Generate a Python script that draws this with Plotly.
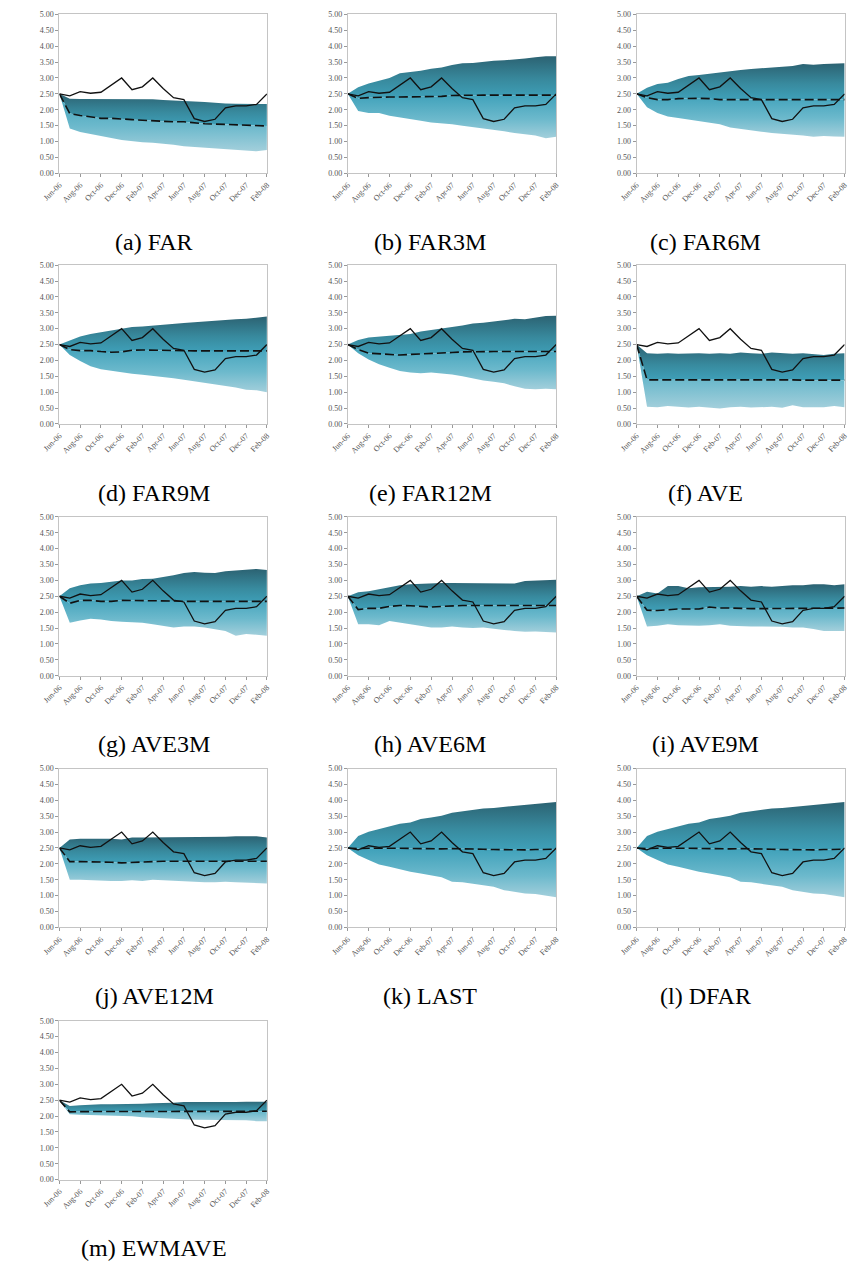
import plotly.graph_objects as go

# Monthly observation dates, Jun-06 .. Feb-08
months = ["Jun-06", "Jul-06", "Aug-06", "Sep-06", "Oct-06", "Nov-06", "Dec-06",
          "Jan-07", "Feb-07", "Mar-07", "Apr-07", "May-07", "Jun-07", "Jul-07",
          "Aug-07", "Sep-07", "Oct-07", "Nov-07", "Dec-07", "Jan-08", "Feb-08"]
tick_labels = months[::2]

# Realised series (solid line)
actual = [2.50, 2.44, 2.57, 2.52, 2.55, 2.78, 3.00, 2.63, 2.72, 3.00, 2.67,
          2.38, 2.32, 1.72, 1.63, 1.70, 2.06, 2.12, 2.12, 2.17, 2.50]

# Fan bounds and central forecast for each method
far_up = [2.50, 2.35, 2.34, 2.34, 2.33, 2.33, 2.33, 2.33, 2.32, 2.33, 2.31,
          2.30, 2.29, 2.26, 2.24, 2.21, 2.20, 2.19, 2.18, 2.18, 2.18]
far_lo = [2.50, 1.41, 1.30, 1.23, 1.17, 1.11, 1.05, 1.01, 0.98, 0.96, 0.94,
          0.90, 0.85, 0.83, 0.80, 0.77, 0.76, 0.75, 0.72, 0.69, 0.73]
far_md = [2.50, 1.88, 1.82, 1.77, 1.73, 1.73, 1.70, 1.69, 1.67, 1.65, 1.65,
          1.62, 1.62, 1.58, 1.56, 1.55, 1.54, 1.52, 1.50, 1.50, 1.49]

far3m_up = [2.50, 2.71, 2.83, 2.92, 3.00, 3.15, 3.18, 3.23, 3.29, 3.33, 3.41,
            3.46, 3.47, 3.51, 3.54, 3.56, 3.58, 3.61, 3.65, 3.68, 3.68]
far3m_lo = [2.50, 1.96, 1.90, 1.90, 1.81, 1.75, 1.70, 1.65, 1.60, 1.58, 1.54,
            1.50, 1.46, 1.42, 1.38, 1.32, 1.27, 1.23, 1.19, 1.10, 1.15]
far3m_md = [2.50, 2.36, 2.38, 2.40, 2.40, 2.40, 2.40, 2.40, 2.40, 2.42, 2.45,
            2.46, 2.46, 2.46, 2.46, 2.46, 2.46, 2.46, 2.46, 2.46, 2.46]

far6m_up = [2.50, 2.69, 2.81, 2.85, 2.97, 3.06, 3.09, 3.13, 3.18, 3.23, 3.25,
            3.28, 3.31, 3.34, 3.35, 3.38, 3.44, 3.42, 3.44, 3.46, 3.46]
far6m_lo = [2.50, 2.08, 1.90, 1.79, 1.74, 1.69, 1.65, 1.60, 1.54, 1.44, 1.39,
            1.35, 1.31, 1.27, 1.25, 1.23, 1.19, 1.15, 1.17, 1.16, 1.15]
far6m_md = [2.50, 2.38, 2.32, 2.32, 2.35, 2.36, 2.36, 2.35, 2.32, 2.32, 2.32,
            2.32, 2.32, 2.32, 2.32, 2.32, 2.32, 2.32, 2.32, 2.32, 2.32]

far9m_up = [2.50, 2.62, 2.75, 2.83, 2.88, 2.93, 3.00, 3.05, 3.07, 3.10, 3.14,
            3.16, 3.18, 3.20, 3.23, 3.26, 3.28, 3.30, 3.31, 3.34, 3.38]
far9m_lo = [2.50, 2.17, 1.98, 1.82, 1.72, 1.67, 1.62, 1.58, 1.55, 1.52, 1.48,
            1.44, 1.39, 1.34, 1.31, 1.26, 1.21, 1.15, 1.08, 1.06, 1.00]
far9m_md = [2.50, 2.34, 2.31, 2.31, 2.28, 2.26, 2.27, 2.32, 2.33, 2.32, 2.31,
            2.30, 2.30, 2.30, 2.30, 2.30, 2.30, 2.30, 2.30, 2.30, 2.30]

far12m_up = [2.50, 2.64, 2.72, 2.75, 2.77, 2.79, 2.83, 2.91, 2.95, 3.00, 3.05,
             3.10, 3.16, 3.19, 3.23, 3.26, 3.31, 3.30, 3.34, 3.40, 3.41]
far12m_lo = [2.50, 2.23, 2.03, 1.88, 1.77, 1.67, 1.62, 1.60, 1.62, 1.60, 1.56,
             1.50, 1.43, 1.37, 1.33, 1.28, 1.19, 1.11, 1.09, 1.11, 1.09]
far12m_md = [2.50, 2.34, 2.23, 2.21, 2.18, 2.17, 2.19, 2.20, 2.23, 2.23, 2.25,
             2.27, 2.28, 2.28, 2.28, 2.28, 2.28, 2.28, 2.28, 2.28, 2.28]

ave_up = [2.50, 2.23, 2.21, 2.23, 2.21, 2.23, 2.23, 2.21, 2.23, 2.21, 2.25,
          2.23, 2.21, 2.25, 2.23, 2.21, 2.23, 2.19, 2.17, 2.21, 2.23]
ave_lo = [2.50, 0.54, 0.53, 0.57, 0.54, 0.52, 0.54, 0.51, 0.49, 0.53, 0.54,
          0.52, 0.53, 0.54, 0.51, 0.59, 0.53, 0.54, 0.53, 0.57, 0.53]
ave_md = [2.50, 1.39, 1.39, 1.39, 1.41, 1.39, 1.41, 1.39, 1.39, 1.39, 1.39,
          1.41, 1.39, 1.41, 1.41, 1.39, 1.38, 1.38, 1.38, 1.38, 1.38]

ave3m_up = [2.50, 2.75, 2.85, 2.90, 2.92, 2.95, 3.00, 3.00, 3.04, 3.05, 3.10,
            3.16, 3.23, 3.26, 3.24, 3.23, 3.29, 3.31, 3.34, 3.36, 3.33]
ave3m_lo = [2.50, 1.67, 1.74, 1.79, 1.77, 1.72, 1.70, 1.69, 1.67, 1.62, 1.57,
            1.52, 1.55, 1.55, 1.52, 1.47, 1.41, 1.26, 1.31, 1.29, 1.26]
ave3m_md = [2.50, 2.28, 2.37, 2.37, 2.34, 2.34, 2.37, 2.37, 2.36, 2.37, 2.37,
            2.35, 2.34, 2.34, 2.34, 2.34, 2.34, 2.34, 2.34, 2.34, 2.34]

ave6m_up = [2.50, 2.63, 2.66, 2.72, 2.78, 2.85, 2.88, 2.90, 2.90, 2.92, 2.92,
            2.92, 2.92, 2.92, 2.92, 2.92, 2.90, 2.98, 3.00, 3.00, 3.02]
ave6m_lo = [2.50, 1.62, 1.62, 1.59, 1.72, 1.67, 1.62, 1.57, 1.52, 1.52, 1.55,
            1.52, 1.50, 1.52, 1.47, 1.44, 1.41, 1.38, 1.39, 1.38, 1.36]
ave6m_md = [2.50, 2.08, 2.12, 2.12, 2.18, 2.21, 2.20, 2.18, 2.16, 2.18, 2.20,
            2.21, 2.21, 2.21, 2.21, 2.21, 2.21, 2.21, 2.21, 2.21, 2.21]

ave9m_up = [2.50, 2.64, 2.59, 2.82, 2.82, 2.75, 2.78, 2.78, 2.80, 2.80, 2.82,
            2.80, 2.82, 2.80, 2.82, 2.85, 2.85, 2.88, 2.88, 2.85, 2.88]
ave9m_lo = [2.50, 1.55, 1.57, 1.62, 1.59, 1.57, 1.57, 1.59, 1.62, 1.57, 1.55,
            1.55, 1.55, 1.55, 1.54, 1.52, 1.52, 1.47, 1.41, 1.41, 1.41]
ave9m_md = [2.50, 2.06, 2.05, 2.08, 2.10, 2.10, 2.10, 2.16, 2.13, 2.13, 2.11,
            2.11, 2.11, 2.11, 2.13, 2.13, 2.13, 2.13, 2.13, 2.13, 2.13]

ave12m_up = [2.50, 2.77, 2.79, 2.79, 2.80, 2.79, 2.77, 2.83, 2.83, 2.83, 2.83,
             2.85, 2.83, 2.83, 2.85, 2.83, 2.85, 2.87, 2.88, 2.87, 2.83]
ave12m_lo = [2.50, 1.50, 1.50, 1.48, 1.46, 1.46, 1.46, 1.48, 1.46, 1.50, 1.48,
             1.46, 1.46, 1.44, 1.42, 1.42, 1.44, 1.42, 1.40, 1.40, 1.38]
ave12m_md = [2.50, 2.07, 2.07, 2.07, 2.06, 2.05, 2.03, 2.05, 2.07, 2.07, 2.08,
             2.08, 2.08, 2.08, 2.08, 2.06, 2.08, 2.08, 2.08, 2.08, 2.08]

last_up = [2.50, 2.88, 3.01, 3.10, 3.18, 3.26, 3.30, 3.41, 3.46, 3.51, 3.61,
           3.66, 3.71, 3.74, 3.76, 3.79, 3.83, 3.87, 3.88, 3.93, 3.95]
last_lo = [2.50, 2.27, 2.12, 1.98, 1.91, 1.83, 1.75, 1.70, 1.65, 1.58, 1.44,
           1.42, 1.37, 1.33, 1.28, 1.17, 1.12, 1.07, 1.05, 1.00, 0.95]
last_md = [2.50, 2.48, 2.49, 2.50, 2.49, 2.49, 2.48, 2.48, 2.48, 2.47, 2.48,
           2.48, 2.47, 2.46, 2.45, 2.44, 2.44, 2.44, 2.45, 2.46, 2.46]

dfar_up = [2.50, 2.88, 3.01, 3.10, 3.18, 3.26, 3.30, 3.41, 3.46, 3.51, 3.61,
           3.66, 3.71, 3.74, 3.76, 3.79, 3.83, 3.87, 3.88, 3.93, 3.95]
dfar_lo = [2.50, 2.27, 2.12, 1.98, 1.91, 1.83, 1.75, 1.70, 1.65, 1.58, 1.44,
           1.42, 1.37, 1.33, 1.28, 1.17, 1.12, 1.07, 1.05, 1.00, 0.95]
dfar_md = [2.50, 2.48, 2.49, 2.50, 2.49, 2.49, 2.48, 2.48, 2.48, 2.47, 2.48,
           2.48, 2.47, 2.46, 2.45, 2.44, 2.44, 2.44, 2.45, 2.46, 2.46]

ewmave_up = [2.50, 2.32, 2.34, 2.36, 2.37, 2.37, 2.37, 2.38, 2.39, 2.40, 2.40,
             2.42, 2.44, 2.44, 2.42, 2.42, 2.44, 2.44, 2.45, 2.45, 2.45]
ewmave_lo = [2.50, 2.06, 2.04, 2.03, 2.03, 2.01, 2.01, 1.99, 1.96, 1.95, 1.94,
             1.92, 1.90, 1.88, 1.88, 1.88, 1.88, 1.88, 1.87, 1.84, 1.84]
ewmave_md = [2.50, 2.13, 2.14, 2.14, 2.15, 2.15, 2.15, 2.15, 2.15, 2.15, 2.15,
             2.15, 2.15, 2.15, 2.15, 2.15, 2.15, 2.15, 2.15, 2.15, 2.15]

captions = ["(a) FAR", "(b) FAR3M", "(c) FAR6M", "(d) FAR9M", "(e) FAR12M",
            "(f) AVE", "(g) AVE3M", "(h) AVE6M", "(i) AVE9M", "(j) AVE12M",
            "(k) LAST", "(l) DFAR", "(m) EWMAVE"]
fans = [(far_up, far_md, far_lo), (far3m_up, far3m_md, far3m_lo),
        (far6m_up, far6m_md, far6m_lo), (far9m_up, far9m_md, far9m_lo),
        (far12m_up, far12m_md, far12m_lo), (ave_up, ave_md, ave_lo),
        (ave3m_up, ave3m_md, ave3m_lo), (ave6m_up, ave6m_md, ave6m_lo),
        (ave9m_up, ave9m_md, ave9m_lo), (ave12m_up, ave12m_md, ave12m_lo),
        (last_up, last_md, last_lo), (dfar_up, dfar_md, dfar_lo),
        (ewmave_up, ewmave_md, ewmave_lo)]

y_ticks = [0.0, 0.5, 1.0, 1.5, 2.0, 2.5, 3.0, 3.5, 4.0, 4.5, 5.0]

# Page geometry (pixels)
W, H = 853, 1267
col_x = [(42.5, 255.5), (338.5, 552.5), (635.0, 848.5)]
col_caption_x = [140, 423, 706]
row_top = [10.5, 263.0, 516.5, 770.0, 1024.0]
plot_h = 160.0
caption_dy = 229.0

DARK = "#2c6373"
MID = "#3fa1ba"
LIGHT = "#a5d0dc"

x_idx = list(range(len(months)))

fig = go.Figure()
layout_axes = {}
annotations = []

for i, (cap, (up, md, lo)) in enumerate(zip(captions, fans)):
    r, c = divmod(i, 3)
    n = "" if i == 0 else str(i + 1)
    xa, ya = "x" + n, "y" + n
    x0, x1 = col_x[c]
    top = row_top[r]
    bot = top + plot_h

    common = dict(x=x_idx, xaxis=xa, yaxis=ya, showlegend=False,
                  hoverinfo="skip", mode="lines")
    # upper edge of the fan
    fig.add_trace(go.Scatter(y=up, line=dict(width=0, color=DARK), **common))
    # median -> upper: dark shading
    fig.add_trace(go.Scatter(
        y=md, line=dict(width=0, color=MID), fill="tonexty",
        fillgradient=dict(type="vertical", start=min(md), stop=max(up),
                          colorscale=[[0, MID], [0.45, "#388a9e"], [1, DARK]]),
        **common))
    # lower -> median: light shading
    fig.add_trace(go.Scatter(
        y=lo, line=dict(width=0, color=LIGHT), fill="tonexty",
        fillgradient=dict(type="vertical", start=min(lo), stop=max(md),
                          colorscale=[[0, LIGHT], [0.45, "#6cb9cc"], [1, MID]]),
        **common))
    # central forecast
    fig.add_trace(go.Scatter(y=md, line=dict(width=1.6, color="#111",
                                             dash="9px,4px"), **common))
    # realised values
    fig.add_trace(go.Scatter(y=actual, line=dict(width=1.3, color="#111"),
                             **common))

    axis_common = dict(showline=True, linecolor="#c4c4c4", linewidth=1,
                       mirror=True, showgrid=False, zeroline=False,
                       ticks="outside", ticklen=3, tickcolor="#999",
                       tickfont=dict(family="Liberation Serif", size=8,
                                     color="#555"))
    layout_axes["xaxis" + n] = dict(
        domain=[x0 / W, x1 / W], anchor=ya, range=[0, len(months) - 1],
        tickvals=x_idx[::2], ticktext=tick_labels, tickangle=-45,
        **axis_common)
    layout_axes["yaxis" + n] = dict(
        domain=[1 - bot / H, 1 - top / H], anchor=xa, range=[0, 5],
        tickvals=y_ticks, tickformat=".2f", **axis_common)

    annotations.append(dict(
        text=cap, xref="paper", yref="paper", x=col_caption_x[c] / W,
        y=1 - (top + caption_dy) / H, xanchor="center", yanchor="middle",
        showarrow=False,
        font=dict(family="Liberation Serif", size=24, color="#000")))

fig.update_layout(
    width=W, height=H, autosize=False,
    margin=dict(l=0, r=0, t=0, b=0),
    paper_bgcolor="white", plot_bgcolor="white",
    annotations=annotations, **layout_axes)

fig.write_html("out.html")
